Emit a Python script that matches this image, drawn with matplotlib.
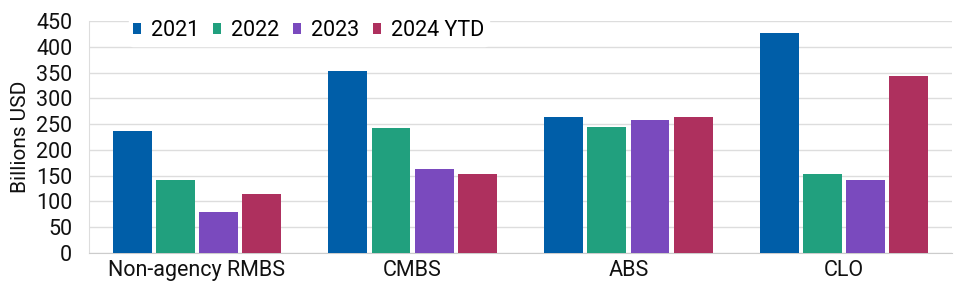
import matplotlib
matplotlib.use("Agg")
import matplotlib.pyplot as plt
import numpy as np

plt.rcParams['font.family'] = ['Roboto', 'DejaVu Sans']

categories = ["Non-agency RMBS", "CMBS", "ABS", "CLO"]
series_names = ["2021", "2022", "2023", "2024 YTD"]
v2021 = [237, 353, 263, 427]
v2022 = [141, 243, 245, 154]
v2023 = [80, 162, 258, 141]
v2024 = [115, 153, 263, 344]
colors = ["#005EA8", "#21A07E", "#7A4ABE", "#AE305E"]

fig = plt.figure(figsize=(9.6, 2.91), dpi=100)
ax = fig.add_axes([89/960, 1 - 253/291, (952-89)/960, (253-21)/291])

x = np.arange(len(categories))
for i, (vals, name, c) in enumerate(zip([v2021, v2022, v2023, v2024], series_names, colors)):
    ax.bar(x + (i - 1.5) * 0.2, vals, width=0.18, color=c, label=name, zorder=3)

ax.set_xlim(-0.5, 3.5)
ax.set_ylim(0, 450)
ax.set_yticks(np.arange(0, 451, 50))
ax.set_xticks(x)
ax.set_xticklabels(categories)
ax.tick_params(axis='both', length=0, labelsize=15.5, colors='#111111')
ax.tick_params(axis='y', pad=12)
ax.tick_params(axis='x', pad=5)
ax.grid(axis='y', color='#dddddd', linewidth=1, zorder=0)
for s in ['top', 'right']:
    ax.spines[s].set_visible(False)
ax.spines['left'].set_color('#dddddd')
ax.spines['bottom'].set_color('#cccccc')
ax.set_ylabel("Billions USD", fontsize=15, color='#111111', labelpad=4)

leg = ax.legend(loc='upper left', bbox_to_anchor=(0.0463, 1.021), ncol=4, frameon=True,
                fontsize=15.5, handlelength=0.37, handleheight=0.37, handletextpad=0.45,
                columnspacing=0.66, borderpad=0.2, borderaxespad=0)
leg.get_frame().set_edgecolor('white')
leg.get_frame().set_facecolor('white')
leg.get_frame().set_alpha(1)
leg.set_zorder(5)

fig.savefig("out.png", dpi=100)
